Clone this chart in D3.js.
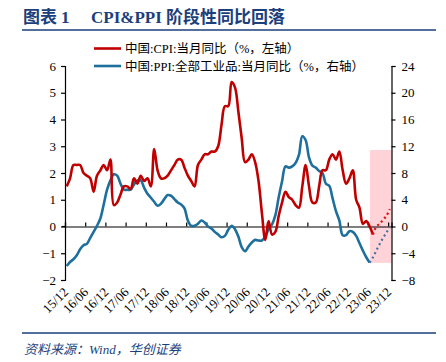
<!DOCTYPE html>
<html><head><meta charset="utf-8">
<script src="https://cdn.jsdelivr.net/npm/d3@7"></script>
<style>
body{margin:0;background:#fff;}
svg{display:block;}
</style></head>
<body><svg id="c" width="446" height="362"></svg>
<script>
// ---- data ----
const startMonth = "2015-12";
const tickLabels = ["15/12","16/06","16/12","17/06","17/12","18/06","18/12","19/06","19/12","20/06","20/12","21/06","21/12","22/06","22/12","23/06","23/12"];
const cpi = [1.5,
 1.8,2.3,2.3,2.3,2.0,1.9,1.8,1.3,1.9,2.1,2.3,2.1,
 2.5,0.8,0.9,1.2,1.5,1.5,1.4,1.8,1.6,1.9,1.7,1.8,
 1.5,2.9,2.1,1.8,1.8,1.9,2.1,2.3,2.5,2.5,2.2,1.9,
 1.7,1.5,2.3,2.5,2.7,2.7,2.8,2.8,3.0,3.8,4.5,4.5,
 5.4,5.2,4.3,3.3,2.4,2.5,2.7,2.4,1.7,0.5,-0.5,0.2,
 -0.3,-0.2,0.4,0.9,1.3,1.1,1.0,0.8,0.7,1.5,2.3,1.5,
 0.9,0.9,1.5,2.1,2.1,2.5,2.7,2.5,2.8,2.1,1.6,1.8,
 2.1,1.0,0.7,0.1,0.2,0.0,-0.3];
const cpiForecast = [-0.3,0.0,0.1,0.25,0.4,0.65];   // 23/07 .. 23/12
const ppi = [-5.9,
 -5.3,-4.9,-4.3,-3.4,-2.8,-2.6,-1.7,-0.8,0.1,1.2,3.3,5.5,
 6.9,7.8,7.6,6.4,5.5,5.5,5.5,6.3,6.9,6.9,5.8,4.9,
 4.3,3.7,3.1,3.4,4.1,4.7,4.6,4.1,3.6,3.3,2.7,0.9,
 0.1,0.1,0.4,0.9,0.6,0.0,-0.3,-0.8,-1.2,-1.6,-1.4,-0.5,
 0.1,-0.4,-1.5,-3.1,-3.7,-3.0,-2.4,-2.0,-2.1,-2.1,-1.5,-0.4,
 0.3,1.7,4.4,6.8,9.0,8.8,9.0,9.5,10.7,13.5,12.9,10.3,
 9.1,8.8,8.3,8.0,6.4,6.1,4.2,2.3,0.9,-1.3,-1.3,-0.7,
 -0.8,-1.4,-2.5,-3.6,-4.6,-5.4];
const ppiForecast = [-5.4,-4.6,-3.6,-2.6,-1.7,-0.9,-0.1]; // 23/06 .. 23/12
const leftTicks = [-2,-1,0,1,2,3,4,5,6];
const rightTicks = [-8,-4,0,4,8,12,16,20,24];
const shadeRange = {fromMonth: 90.6, toMonth: 97, top: 2.86, bottom: -1.36};
const nMonths = 97;

// ---- layout ----
const svg = d3.select("#c");
const L = 65, R = 391.5, T = 66, B = 280;
const x = d3.scaleLinear().domain([0, nMonths]).range([L, R]);
const yL = d3.scaleLinear().domain([-2, 6]).range([B, T]);
const yR = d3.scaleLinear().domain([-8, 24]).range([B, T]);
const navy = "#1c3f7c";
const red = "#c00000", blue = "#1f6f9c";
const serif = "'Liberation Serif','Times New Roman',serif";
const cjk = "'Liberation Serif','Noto Sans CJK SC',serif";

// title
const title = svg.append("text").attr("y", 23).attr("fill", navy)
  .attr("font-weight", "bold").attr("font-size", 17).attr("font-family", "'Liberation Serif','Noto Sans CJK SC',serif");
title.append("tspan").attr("x", 23).text("图表");
title.append("tspan").attr("x", 61).text("1");
title.append("tspan").attr("x", 91).text("CPI&PPI 阶段性同比回落");
svg.append("line").attr("x1", 22).attr("x2", 436).attr("y1", 30).attr("y2", 30)
  .attr("stroke", navy).attr("stroke-width", 1.4);
svg.append("line").attr("x1", 22).attr("x2", 436).attr("y1", 333).attr("y2", 333)
  .attr("stroke", navy).attr("stroke-width", 1.4);
svg.append("text").attr("x", 24).attr("y", 354).attr("fill", navy)
  .attr("font-style", "italic").attr("font-size", 13).attr("font-family", cjk)
  .text("资料来源：Wind，华创证券");

// shade
svg.append("rect")
  .attr("x", x(shadeRange.fromMonth)).attr("width", x(shadeRange.toMonth) - x(shadeRange.fromMonth))
  .attr("y", yL(shadeRange.top)).attr("height", yL(shadeRange.bottom) - yL(shadeRange.top))
  .attr("fill", "#ffd3d8");

// axes
const gL = svg.append("g").attr("transform", `translate(${L},0)`)
  .call(d3.axisLeft(yL).tickValues(leftTicks).tickSize(4).tickFormat(d3.format("d")));
const gR = svg.append("g").attr("transform", `translate(${R},0)`)
  .call(d3.axisRight(yR).tickValues(rightTicks).tickSize(4).tickFormat(d3.format("d")));
[gL, gR].forEach(g => {
  g.select(".domain").attr("stroke", "#000").attr("stroke-width", 1.2);
  g.selectAll(".tick line").attr("stroke", "#000").attr("stroke-width", 1.2);
  g.selectAll("text").attr("font-family", serif).attr("font-size", 13).attr("fill", "#000");
});
gL.selectAll("text").attr("x", -9);
gR.selectAll("text").attr("x", 10);

// x axis at zero
const tickIdx = tickLabels.map((d, i) => i * 6);
const gX = svg.append("g").attr("transform", `translate(0,${yL(0)})`)
  .call(d3.axisTop(x).tickValues(tickIdx).tickSize(4).tickFormat(""));
gX.select(".domain").attr("stroke", "#000").attr("stroke-width", 1.2);
gX.selectAll(".tick line").attr("stroke", "#000").attr("stroke-width", 1.2);
svg.append("line").attr("x1", L - 3).attr("x2", L).attr("y1", yL(0)).attr("y2", yL(0)).attr("stroke", "#000").attr("stroke-width", 1.2);

svg.append("g").selectAll("text").data(tickLabels).join("text")
  .attr("transform", (d, i) => `translate(${x(i * 6) + 4},${B + 13}) rotate(-45)`)
  .attr("text-anchor", "end").attr("font-family", serif).attr("font-size", 13)
  .text(d => d);

// lines
const cx = i => x(i + 0.5);
const lineL = d3.line().x(d => cx(d.i)).y(d => yL(d.v)).curve(d3.curveCatmullRom);
const lineR = d3.line().x(d => cx(d.i)).y(d => yR(d.v)).curve(d3.curveCatmullRom);
const cpiPts = cpi.map((v, i) => ({i, v}));
const ppiPts = ppi.map((v, i) => ({i, v}));
const cpiF = cpiForecast.map((v, k) => ({i: cpi.length - 1 + k, v}));
const ppiF = ppiForecast.map((v, k) => ({i: ppi.length - 1 + k, v}));

svg.append("path").attr("d", lineR(ppiPts)).attr("fill", "none").attr("stroke", blue).attr("stroke-width", 2.6);
svg.append("path").attr("d", lineL(cpiPts)).attr("fill", "none").attr("stroke", red).attr("stroke-width", 2.6);
svg.append("path").attr("d", lineR(ppiF)).attr("fill", "none").attr("stroke", "#4a6fa0").attr("stroke-width", 2.2).attr("stroke-dasharray", "2,3");
svg.append("path").attr("d", lineL(cpiF)).attr("fill", "none").attr("stroke", "#e01010").attr("stroke-width", 2.2).attr("stroke-dasharray", "2,3");

// legend
const legend = [{t: "中国:CPI:当月同比（%，左轴）", c: red, y: 48.5}, {t: "中国:PPI:全部工业品:当月同比（%，右轴）", c: blue, y: 66}];
legend.forEach(d => {
  svg.append("line").attr("x1", 94).attr("x2", 121).attr("y1", d.y).attr("y2", d.y).attr("stroke", d.c).attr("stroke-width", 2.6);
  svg.append("text").attr("x", 125).attr("y", d.y + 4.5).attr("font-size", 12.5).attr("font-family", cjk).attr("fill", "#000").text(d.t);
});
</script></body></html>
